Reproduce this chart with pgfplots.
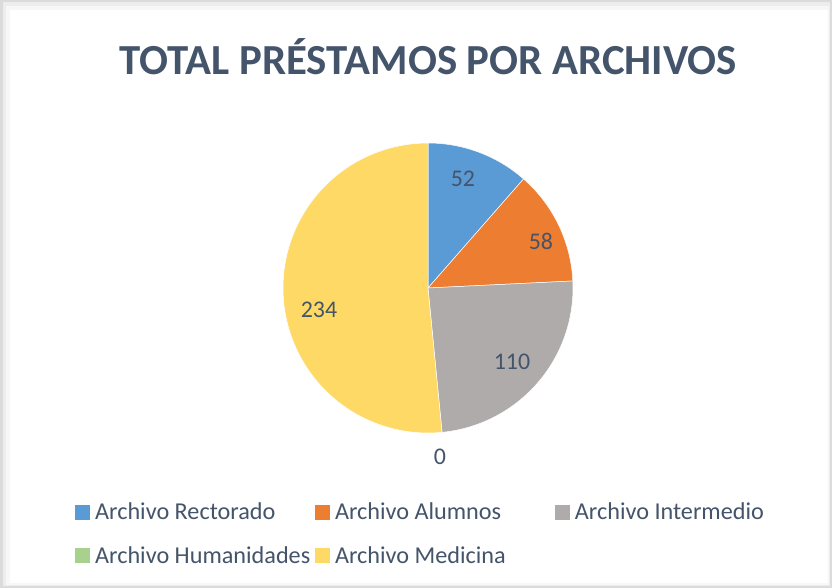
\documentclass[border=0pt]{standalone}
\usepackage{pgfplots}
\pgfplotsset{compat=1.18}
\usepackage{fontspec}
\setmainfont{Carlito}
\definecolor{cRec}{HTML}{5B9BD5}
\definecolor{cAlu}{HTML}{ED7D31}
\definecolor{cInt}{HTML}{AFABAB}
\definecolor{cHum}{HTML}{A9D18E}
\definecolor{cMed}{HTML}{FFD966}
\definecolor{txt}{HTML}{44546A}
\newcommand\lentry[1]{\makebox[219.5bp][l]{\hspace{2.5bp}#1}}
\begin{document}
\begin{tikzpicture}
\useasboundingbox (0,0) rectangle (832bp,588bp);
% frame with shadow
\fill[black!14] (0,0) rectangle (832bp,588bp);
\fill[black!7] (3bp,2bp) rectangle (830bp,586bp);
\fill[black!3] (6bp,3bp) rectangle (829bp,582bp);
\fill[white] (10bp,5bp) rectangle (828bp,578bp);
% values
\def\vRec{52}\def\vAlu{58}\def\vInt{110}\def\vHum{0}\def\vMed{234}
\pgfmathsetmacro\tot{\vRec+\vAlu+\vInt+\vHum+\vMed}
\pgfmathsetmacro\aA{90}
\pgfmathsetmacro\aB{90-(\vRec)/\tot*360}
\pgfmathsetmacro\aC{90-(\vRec+\vAlu)/\tot*360}
\pgfmathsetmacro\aD{90-(\vRec+\vAlu+\vInt)/\tot*360}
\pgfmathsetmacro\aE{90-(\vRec+\vAlu+\vInt+\vHum)/\tot*360}
\pgfmathsetmacro\aF{90-(\vRec+\vAlu+\vInt+\vHum+\vMed)/\tot*360}
\node[text=txt, font=\fontsize{43}{50}\selectfont\bfseries] at (428.5bp,531bp) {TOTAL PRÉSTAMOS POR ARCHIVOS};
\begin{axis}[at={(428bp,300bp)}, anchor=center, width=290bp, height=290bp,
  scale only axis, xmin=-1, xmax=1, ymin=-1, ymax=1, hide axis, clip=false,
  legend columns=3,
  legend style={at={(axis cs:-2.434,-1.462)}, anchor=north west, draw=none, fill=none,
    font=\fontsize{24.3}{28}\selectfont, text=txt, inner sep=0pt, row sep=19bp,
    nodes={inner sep=3bp}},
  legend cell align=left,
  legend image code/.code={\fill[#1] (0bp,-7bp) rectangle (14bp,7bp);}]
\addplot[forget plot, fill=cRec, draw=white, line width=0.5pt, domain=\aB:\aA, samples=80, variable=\t] ({cos(\t)},{sin(\t)}) -- (axis cs:0,0) -- cycle;
\addplot[forget plot, fill=cAlu, draw=white, line width=0.5pt, domain=\aC:\aB, samples=80, variable=\t] ({cos(\t)},{sin(\t)}) -- (axis cs:0,0) -- cycle;
\addplot[forget plot, fill=cInt, draw=white, line width=0.5pt, domain=\aD:\aC, samples=80, variable=\t] ({cos(\t)},{sin(\t)}) -- (axis cs:0,0) -- cycle;
\addplot[forget plot, fill=cMed, draw=white, line width=0.5pt, domain=\aF:\aE, samples=150, variable=\t] ({cos(\t)},{sin(\t)}) -- (axis cs:0,0) -- cycle;
\node[text=txt, font=\fontsize{24}{28}\selectfont] at (axis cs:0.241,0.752) {52};
\node[text=txt, font=\fontsize{24}{28}\selectfont] at (axis cs:0.779,0.324) {58};
\node[text=txt, font=\fontsize{24}{28}\selectfont] at (axis cs:0.579,-0.510) {110};
\node[text=txt, font=\fontsize{24}{28}\selectfont] at (axis cs:-0.752,-0.152) {234};
\node[text=txt, font=\fontsize{24}{28}\selectfont] at (axis cs:0.083,-1.166) {0};
\addlegendimage{cRec}\addlegendentry{\lentry{Archivo Rectorado}}
\addlegendimage{cAlu}\addlegendentry{\lentry{Archivo Alumnos}}
\addlegendimage{cInt}\addlegendentry{\lentry{Archivo Intermedio}}
\addlegendimage{cHum}\addlegendentry{\lentry{Archivo Humanidades}}
\addlegendimage{cMed}\addlegendentry{\lentry{Archivo Medicina}}
\end{axis}
\end{tikzpicture}
\end{document}
